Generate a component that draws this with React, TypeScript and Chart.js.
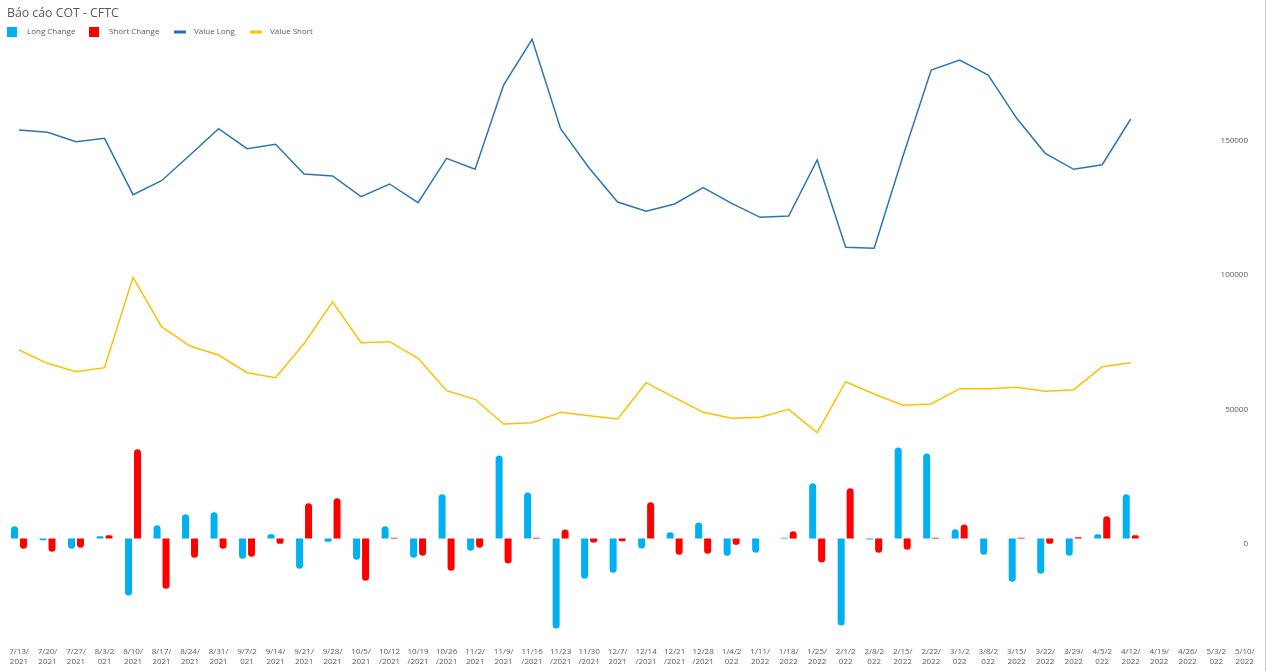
import React, { useEffect, useRef } from 'react';
import { Chart, registerables } from 'chart.js';

Chart.register(...registerables);

const dates = [
  '7/13/2021', '7/20/2021', '7/27/2021', '8/3/2021', '8/10/2021', '8/17/2021', '8/24/2021', '8/31/2021',
  '9/7/2021', '9/14/2021', '9/21/2021', '9/28/2021', '10/5/2021', '10/12/2021', '10/19/2021', '10/26/2021',
  '11/2/2021', '11/9/2021', '11/16/2021', '11/23/2021', '11/30/2021', '12/7/2021', '12/14/2021', '12/21/2021',
  '12/28/2021', '1/4/2022', '1/11/2022', '1/18/2022', '1/25/2022', '2/1/2022', '2/8/2022', '2/15/2022',
  '2/22/2022', '3/1/2022', '3/8/2022', '3/15/2022', '3/22/2022', '3/29/2022', '4/5/2022', '4/12/2022',
  '4/19/2022', '4/26/2022', '5/3/2022', '5/10/2022',
];

const longChange = [
  4580, -620, -3840, 870, -21190, 4960, 9050, 9790, -7560, 1610,
  -11270, -1240, -7930, 4580, -7190, 16480, -4580, 30850, 17100, -33450,
  -14990, -12760, -3720, 2350, 5950, -6440, -5330, 300, 20570, -32340,
  -370, 33830, 31600, 3470, -6070, -16110, -13130, -6440, 1610, 16480,
  null, null, null, null,
];

const shortChange = [
  -3840, -4960, -3470, 1240, 33200, -18710, -7190, -3840, -6810, -1980,
  13130, 14990, -15740, 300, -6440, -12020, -3470, -9290, 300, 3350,
  -1490, -990, 13510, -6070, -5700, -2350, 0, 2730, -8920, 18710,
  -5330, -4210, 300, 5200, 0, 300, -1980, 500, 8300, 1240,
  null, null, null, null,
];

const valueLong = [
  153900, 153050, 149550, 150820, 129850, 135060, 144610, 154390, 146950, 148590,
  137550, 136800, 129110, 133830, 126880, 143380, 139290, 170630, 187620, 154390,
  139780, 127140, 123680, 126400, 132450, 126650, 121450, 121930, 142750, 110300,
  109930, 143870, 176210, 179930, 174350, 158250, 145240, 139290, 141000, 158000,
  null, null, null, null,
];

const valueShort = [
  72120, 67170, 64050, 65540, 99140, 80780, 73600, 70260, 63680, 61820,
  74500, 90070, 74830, 75200, 69030, 56990, 53790, 44610, 45090, 48960,
  47700, 46470, 59960, 54390, 48960, 46730, 47100, 50070, 41380, 60330,
  55760, 51560, 52040, 57730, 57730, 58250, 56770, 57360, 65910, 67400,
  null, null, null, null,
];

const yTickValues = [0, 50000, 100000, 150000];

const TITLE = 'Báo cáo COT - CFTC';
const FONT = "'Open Sans', 'DejaVu Sans', sans-serif";
const TEXT_COLOR = '#595959';
const COLOR_LONG_CHANGE = '#00B0F0';
const COLOR_SHORT_CHANGE = '#FF0000';
const COLOR_VALUE_LONG = '#2E75B6';
const COLOR_VALUE_SHORT = '#FFC000';

// layout of the plot area (pixels)
const AREA_TOP = 20;
const AREA_BOTTOM = 636;
const CANVAS_H = 671;
const PX_PER_50K = 134.5;
const ZERO_LINES = 544;
const ZERO_BARS = 538.5;
const UNIT = 50000 / PX_PER_50K;

const yMin = -(AREA_BOTTOM - ZERO_LINES) * UNIT;
const yMax = (ZERO_LINES - AREA_TOP) * UNIT;
const y2Min = -(AREA_BOTTOM - ZERO_BARS) * UNIT;
const y2Max = (ZERO_BARS - AREA_TOP) * UNIT;

const labels = dates.map((d) => [d.slice(0, 5), d.slice(5)]);

const headerPlugin = {
  id: 'header',
  afterDraw(chart: any) {
    const ctx = chart.ctx as CanvasRenderingContext2D;
    ctx.save();
    ctx.fillStyle = TEXT_COLOR;
    ctx.textBaseline = 'middle';
    ctx.textAlign = 'left';
    ctx.font = `12.3px ${FONT}`;
    ctx.fillText(TITLE, 7, 13);

    const items = [
      { text: 'Long Change', color: COLOR_LONG_CHANGE, kind: 'box', x: 7 },
      { text: 'Short Change', color: COLOR_SHORT_CHANGE, kind: 'box', x: 89 },
      { text: 'Value Long', color: '#1F6FB5', kind: 'line', x: 174 },
      { text: 'Value Short', color: COLOR_VALUE_SHORT, kind: 'line', x: 250 },
    ];
    ctx.font = `8px ${FONT}`;
    const cy = 32;
    items.forEach((it) => {
      ctx.fillStyle = it.color;
      if (it.kind === 'box') {
        ctx.fillRect(it.x, cy - 5, 10, 10);
      } else {
        ctx.fillRect(it.x, cy - 1.5, 12, 3);
      }
      ctx.fillStyle = TEXT_COLOR;
      ctx.fillText(it.text, it.x + 20, cy);
    });
    ctx.restore();
  },
};

export default function App() {
  const canvasRef = useRef<HTMLCanvasElement>(null);

  useEffect(() => {
    if (!canvasRef.current) return;
    const chart = new Chart(canvasRef.current, {
      data: {
        labels,
        datasets: [
          {
            type: 'line',
            label: 'Value Long',
            data: valueLong,
            borderColor: COLOR_VALUE_LONG,
            backgroundColor: COLOR_VALUE_LONG,
            borderWidth: 1.5,
            pointRadius: 0,
            tension: 0,
            yAxisID: 'y',
          },
          {
            type: 'line',
            label: 'Value Short',
            data: valueShort,
            borderColor: COLOR_VALUE_SHORT,
            backgroundColor: COLOR_VALUE_SHORT,
            borderWidth: 1.5,
            pointRadius: 0,
            tension: 0,
            yAxisID: 'y',
          },
          {
            type: 'bar',
            label: 'Long Change',
            data: longChange,
            backgroundColor: COLOR_LONG_CHANGE,
            borderRadius: 3.5,
            borderSkipped: 'start',
            categoryPercentage: 0.63,
            barPercentage: 0.78,
            yAxisID: 'y2',
          },
          {
            type: 'bar',
            label: 'Short Change',
            data: shortChange,
            backgroundColor: COLOR_SHORT_CHANGE,
            borderRadius: 3.5,
            borderSkipped: 'start',
            categoryPercentage: 0.63,
            barPercentage: 0.78,
            yAxisID: 'y2',
          },
        ],
      } as any,
      options: {
        animation: false,
        responsive: true,
        maintainAspectRatio: false,
        layout: { padding: { top: AREA_TOP, left: 4.75, right: 0, bottom: 0 } },
        plugins: {
          legend: { display: false },
          title: { display: false },
          tooltip: { enabled: false },
        },
        scales: {
          x: {
            grid: { display: false },
            border: { display: false },
            ticks: {
              autoSkip: false,
              maxRotation: 0,
              minRotation: 0,
              padding: 3,
              color: TEXT_COLOR,
              font: { family: FONT, size: 8, lineHeight: 1.2 },
            },
            afterFit: (s: any) => {
              s.height = CANVAS_H - AREA_BOTTOM;
            },
          },
          y: {
            position: 'right',
            min: yMin,
            max: yMax,
            grid: { display: false, drawTicks: false },
            border: { display: false },
            ticks: {
              mirror: true,
              padding: -11,
              color: TEXT_COLOR,
              font: { family: FONT, size: 8 },
              callback: (v: any) => String(v),
            },
            afterBuildTicks: (s: any) => {
              s.ticks = yTickValues.map((v) => ({ value: v }));
            },
            afterFit: (s: any) => {
              s.width = 6;
            },
          },
          y2: {
            display: false,
            min: y2Min,
            max: y2Max,
          },
        },
      } as any,
      plugins: [headerPlugin],
    });
    return () => chart.destroy();
  }, []);

  return (
    <div
      style={{
        position: 'absolute',
        left: 0,
        top: 0,
        width: 1265,
        height: CANVAS_H,
        borderRight: '1px solid #c8c8c8',
        background: '#ffffff',
      }}
    >
      <canvas ref={canvasRef} />
    </div>
  );
}
